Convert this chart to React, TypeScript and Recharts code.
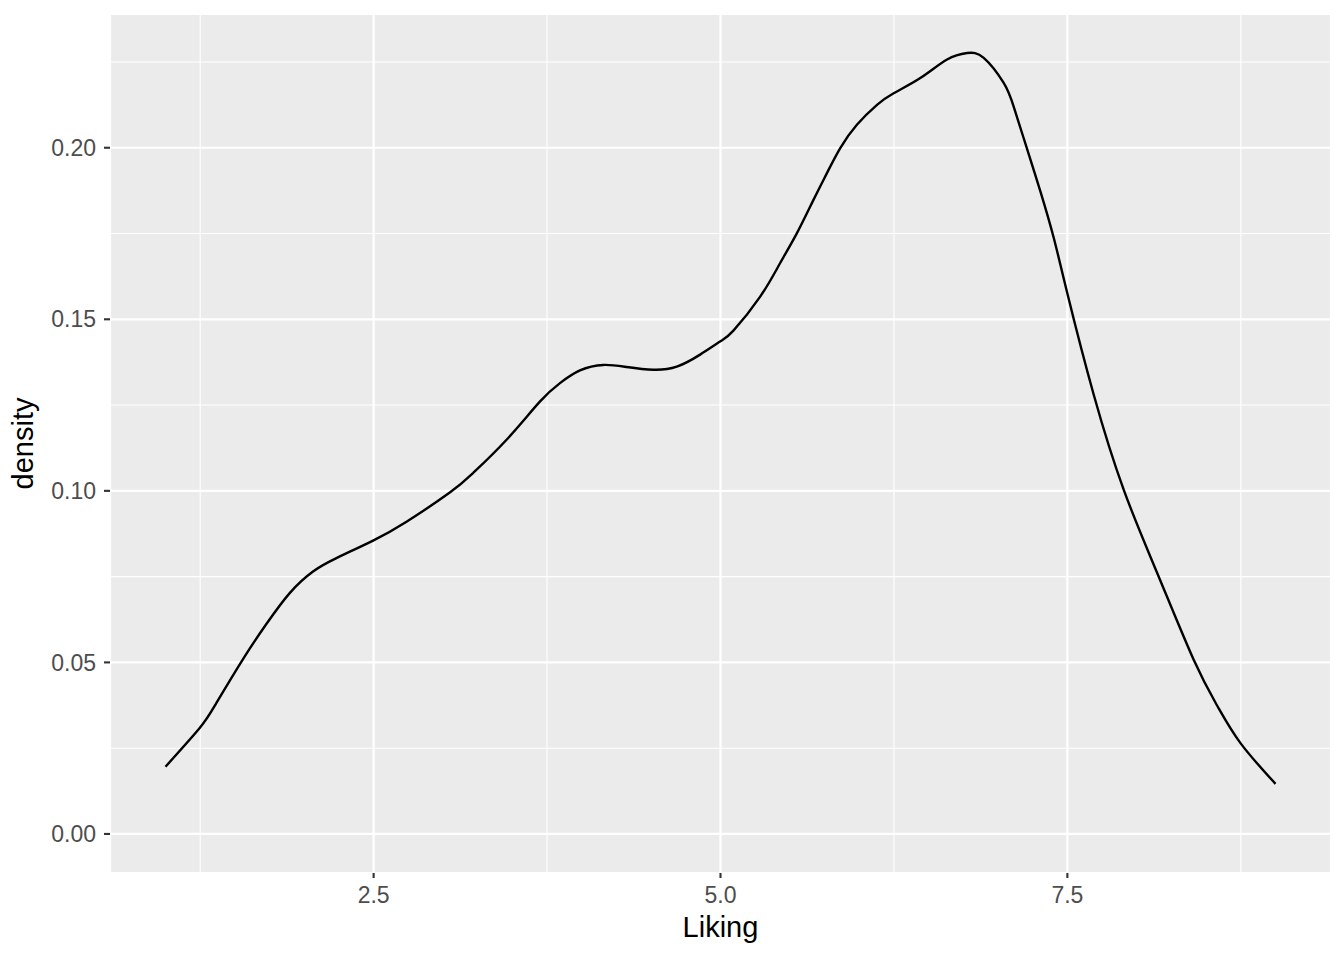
import React from 'react';
import { LineChart, Line, XAxis, YAxis, CartesianGrid, Label, ReferenceLine } from 'recharts';

// Kernel density of "Liking"
const liking = [
  1.0, 1.245, 1.366, 1.57, 1.727, 1.895, 2.063, 2.232, 2.496, 2.737, 3.049,
  3.217, 3.458, 3.698, 3.843, 3.987, 4.155, 4.324, 4.516, 4.685, 4.853, 4.997,
  5.093, 5.286, 5.43, 5.551, 5.67, 5.767, 5.863, 5.983, 6.128, 6.248, 6.44,
  6.633, 6.777, 6.897, 7.041, 7.113, 7.21, 7.306, 7.402, 7.5, 7.69, 7.907, 8.148,
  8.412, 8.581, 8.749, 9.0,
];
const density = [
  0.0196, 0.0308, 0.0381, 0.0517, 0.0612, 0.0702, 0.0765, 0.0804, 0.0855, 0.091, 0.0995,
  0.1052, 0.1149, 0.126, 0.1314, 0.1351, 0.1367, 0.1361, 0.1353, 0.1362, 0.1397, 0.1435,
  0.1467, 0.1566, 0.1664, 0.1751, 0.1848, 0.1926, 0.1999, 0.2067, 0.2125, 0.2159, 0.2203,
  0.2257, 0.2276, 0.2262, 0.2189, 0.212, 0.1996, 0.1872, 0.1737, 0.1575, 0.128, 0.1002, 0.076,
  0.0506, 0.0373, 0.0264, 0.0146,
];

const xTicks = [2.5, 5.0, 7.5];
const xMinor = [1.25, 3.75, 6.25, 8.75];
const yTicks = [0, 0.05, 0.1, 0.15, 0.2];
const yMinor = [0.025, 0.075, 0.125, 0.175, 0.225];

const data = liking.map((x, i) => ({ x, y: density[i] }));

const xMin = Math.min(...liking);
const xMax = Math.max(...liking);
const xPad = (xMax - xMin) * 0.05;
const yLo = 0;
const yHi = Math.max(...density);
const yPad = (yHi - yLo) * 0.05;

const FONT = '"Liberation Sans", Arial, Helvetica, sans-serif';

export default function App() {
  return (
    <div style={{ width: 1328, height: 944, background: '#fff' }}>
      <LineChart
        width={1328}
        height={944}
        data={data}
        margin={{ top: 6, right: 5, bottom: 0, left: 0 }}
        style={{ fontFamily: FONT }}
      >
        <CartesianGrid fill="#EBEBEB" stroke="#FFFFFF" strokeWidth={2.2} />
        {xMinor.map((v) => (
          <ReferenceLine key={'xm' + v} x={v} stroke="#FFFFFF" strokeWidth={1.1} />
        ))}
        {yMinor.map((v) => (
          <ReferenceLine key={'ym' + v} y={v} stroke="#FFFFFF" strokeWidth={1.1} />
        ))}
        <XAxis
          dataKey="x"
          type="number"
          domain={[xMin - xPad, xMax + xPad]}
          allowDataOverflow
          ticks={xTicks}
          tickFormatter={(v: number) => v.toFixed(1)}
          axisLine={false}
          tickLine={{ stroke: '#333333', strokeWidth: 2.1 }}
          tickSize={5}
          tickMargin={9}
          tick={{ fill: '#4D4D4D', fontSize: 23, fontFamily: FONT }}
          height={79}
        >
          <Label
            content={(p: any) => {
              const vb = p.viewBox || { x: 102, y: 865, width: 1221, height: 79 };
              return (
                <text
                  x={vb.x + vb.width / 2}
                  y={vb.y + 64}
                  textAnchor="middle"
                  fill="#000000"
                  fontSize={29}
                  fontFamily={FONT}
                >
                  Liking
                </text>
              );
            }}
          />
        </XAxis>
        <YAxis
          type="number"
          domain={[yLo - yPad, yHi + yPad]}
          allowDataOverflow
          ticks={yTicks}
          tickFormatter={(v: number) => v.toFixed(2)}
          axisLine={false}
          tickLine={{ stroke: '#333333', strokeWidth: 2.1 }}
          tickSize={6}
          tickMargin={8}
          tick={{ fill: '#4D4D4D', fontSize: 23, fontFamily: FONT }}
          width={102}
        >
          <Label
            content={(p: any) => {
              const vb = p.viewBox || { x: 0, y: 6, width: 102, height: 859 };
              const cx = 25;
              const cy = vb.y + vb.height / 2;
              return (
                <text
                  x={cx}
                  y={cy}
                  transform={`rotate(-90, ${cx}, ${cy})`}
                  textAnchor="middle"
                  fill="#000000"
                  fontSize={29}
                  fontFamily={FONT}
                >
                  density
                </text>
              );
            }}
          />
        </YAxis>
        <Line
          type="natural"
          dataKey="y"
          stroke="#000000"
          strokeWidth={2.4}
          dot={false}
          activeDot={false}
          isAnimationActive={false}
        />
      </LineChart>
    </div>
  );
}
